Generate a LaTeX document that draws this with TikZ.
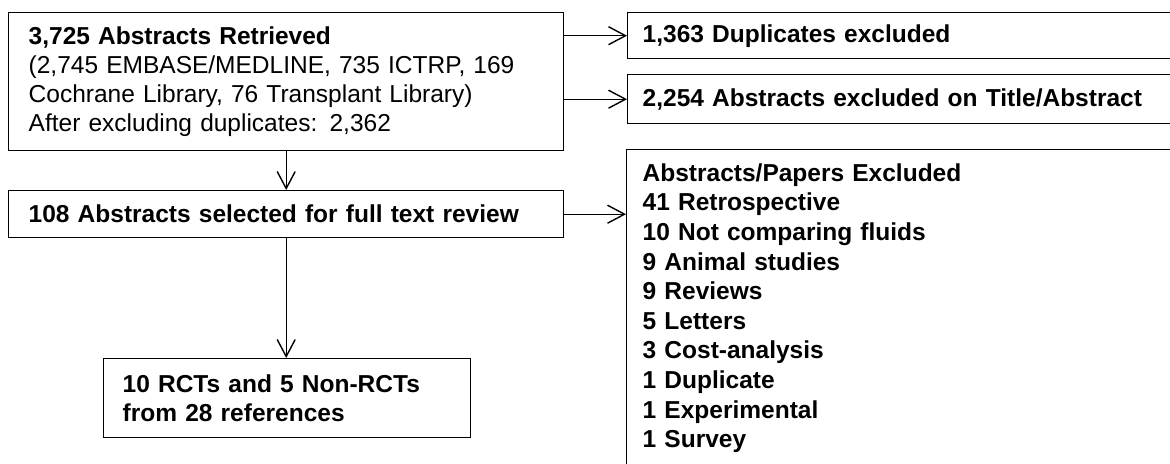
\documentclass[tikz,border=0pt]{standalone}
\usepackage{fontspec}
\setmainfont{Liberation Sans}
\usetikzlibrary{arrows.meta}
\begin{document}
\begin{tikzpicture}[x=0.5pt,y=-0.5pt,
  box/.style={draw, line width=0.7pt, anchor=north west, align=left,
    inner ysep=0pt, font=\fontsize{12.25pt}{14.65pt}\selectfont\bfseries},
  link/.style={line width=0.7pt,
    -{Straight Barb[length=8.5pt,width=9pt,line width=0.7pt]}}]
\useasboundingbox (0,0) rectangle (1170,463);
\fill[white] (0,0) rectangle (1170,463);
\clip (0,0) rectangle (1170,463);

% left column
\node[box, inner xsep=10pt, text width=257.5pt, minimum width=277.5pt,
      minimum height=69pt] (retrieved) at (8,12)
  {3,725 Abstracts Retrieved\\
   \mdseries(2,745 EMBASE/MEDLINE, 735 ICTRP, 169\\
   Cochrane Library, 76 Transplant Library)\\
   After excluding duplicates: 2,362};
\node[box, inner xsep=10pt, text width=257.5pt, minimum width=277.5pt,
      minimum height=23.5pt] (fulltext) at (8,190)
  {108 Abstracts selected for full text review};
\node[box, inner xsep=9.5pt, text width=164.5pt, minimum width=183.5pt,
      minimum height=39.5pt] (included) at (103,358)
  {10 RCTs and 5 Non-RCTs\\ from 28 references};

% right column (boxes run past the page edge)
\node[box, inner xsep=7.5pt, text width=261.5pt, minimum width=276.5pt,
      minimum height=23pt] (dup) at (627,12)
  {1,363 Duplicates excluded};
\node[box, inner xsep=7.5pt, text width=261.5pt, minimum width=276.5pt,
      minimum height=24.5pt] (title) at (627,74)
  {2,254 Abstracts excluded on Title/Abstract};
\node[box, inner xsep=8pt, text width=261pt, minimum width=277pt,
      minimum height=158.5pt,
      font=\fontsize{12.25pt}{14.8pt}\selectfont\bfseries] (excluded) at (626,149)
  {Abstracts/Papers Excluded\\
   41 Retrospective\\
   10 Not comparing fluids\\
   9 Animal studies\\
   9 Reviews\\
   5 Letters\\
   3 Cost-analysis\\
   1 Duplicate\\
   1 Experimental\\
   1 Survey};

% connectors
\draw[link] (retrieved.east |- dup.west) -- (dup.west);
\draw[link] (retrieved.east |- title.west) -- (title.west);
\draw[link] (retrieved.south) -- (fulltext.north);
\draw[link] (fulltext.east) -- (fulltext.east -| excluded.west);
\draw[link] (fulltext.south) -- (fulltext.south |- included.north);
\end{tikzpicture}
\end{document}
